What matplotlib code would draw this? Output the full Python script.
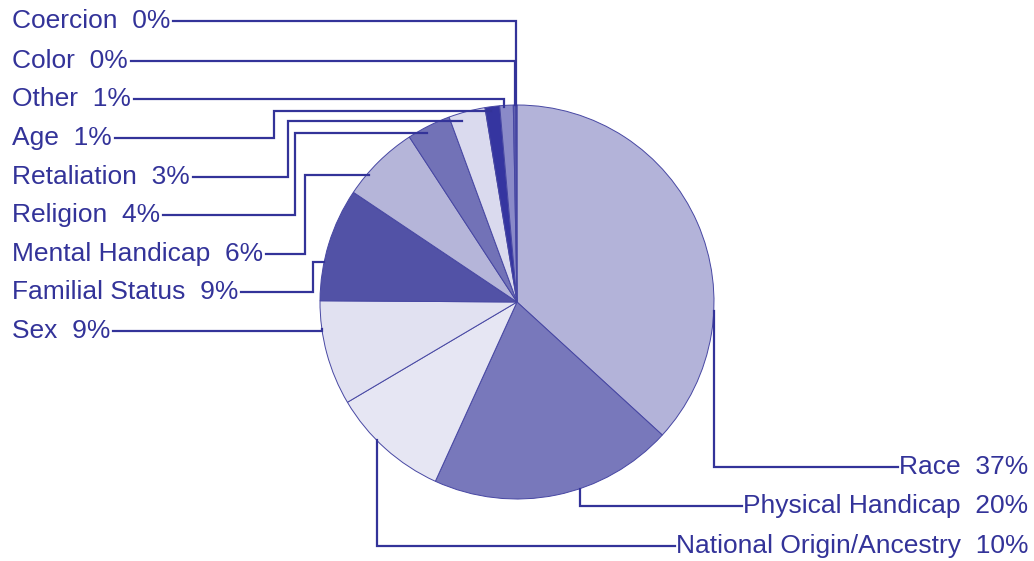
import numpy as np
import matplotlib.pyplot as plt

W, H = 1034, 561

# 投诉类别及占比（%）
categories = ["Race", "Physical Handicap", "National Origin/Ancestry", "Sex",
              "Familial Status", "Mental Handicap", "Religion", "Retaliation",
              "Age", "Other", "Color", "Coercion"]
shares = [36.8, 20.0, 9.7, 8.6, 9.3, 6.4, 3.6, 3.0, 1.2, 1.1, 0.2, 0.1]
colors = ["#b3b3d9", "#7878bb", "#e6e6f3", "#e1e1f1", "#5252a6", "#b5b5d9",
          "#7272b7", "#dadaee", "#3535a0", "#8a8ac8", "#6060b0", "#33339a"]

# 标签位置：(文字x, 文字y, 对齐, 折点x, 引线在扇区内的位置, 引线半径比例)
label_layout = {
    "Race": (1028, 467, "right", None, 0.70, 1.0),
    "Physical Handicap": (1028, 506, "right", None, 0.40, 1.0),
    "National Origin/Ancestry": (1028, 546, "right", None, 0.60, 1.0),
    "Sex": (12, 331, "left", None, 0.73, 1.0),
    "Familial Status": (12, 292, "left", 313, 0.34, 1.0),
    "Mental Handicap": (12, 254, "left", 305, 0.30, 0.99),
    "Religion": (12, 215, "left", 295, 0.40, 0.97),
    "Retaliation": (12, 177, "left", 288, 0.30, 0.96),
    "Age": (12, 138, "left", 274, 0.40, 0.98),
    "Other": (12, 99, "left", None, 0.30, 0.99),
    "Color": (12, 61, "left", None, 0.50, 1.0),
    "Coercion": (12, 21, "left", None, 0.50, 1.0),
}

cx, cy, r = 517, 302, 197
line_color = "#333399"


def Y(py):
    # 像素y坐标 -> 数据坐标
    return H - py


fig = plt.figure(figsize=(W / 100, H / 100), dpi=100)
ax = fig.add_axes([0, 0, 1, 1])

wedges, _ = ax.pie(shares, colors=colors, startangle=90, counterclock=False,
                   center=(cx, Y(cy)), radius=r,
                   wedgeprops=dict(edgecolor="#4747a3", linewidth=0.7))
ax.set_xlim(0, W)
ax.set_ylim(0, H)
ax.set_aspect("equal")
ax.axis("off")

texts = []
for name, val in zip(categories, shares):
    tx, ty, ha = label_layout[name][:3]
    t = ax.text(tx, Y(ty), f"{name}  {round(val)}%", ha=ha, va="center",
                fontsize=19, color=line_color, family="Liberation Sans")
    texts.append(t)

fig.canvas.draw()
renderer = fig.canvas.get_renderer()
inv = ax.transData.inverted()

for name, w, t in zip(categories, wedges, texts):
    tx, ty, ha, elbow, frac, rf = label_layout[name]
    bb = t.get_window_extent(renderer)
    x0 = inv.transform((bb.x0, 0))[0]
    x1 = inv.transform((bb.x1, 0))[0]
    start = x1 + 3 if ha == "left" else x0 - 1

    ang = np.deg2rad(w.theta2 - frac * (w.theta2 - w.theta1))
    ax_, ay_ = cx + r * rf * np.cos(ang), Y(cy) + r * rf * np.sin(ang)

    y_t = Y(ty)
    if elbow is None:
        xs = [start, ax_, ax_]
        ys = [y_t, y_t, ay_]
    else:
        xs = [start, elbow, elbow, ax_]
        ys = [y_t, y_t, ay_, ay_]
    ax.plot(xs, ys, color=line_color, lw=1.6, solid_joinstyle="miter")

fig.savefig("out.png", dpi=100)
